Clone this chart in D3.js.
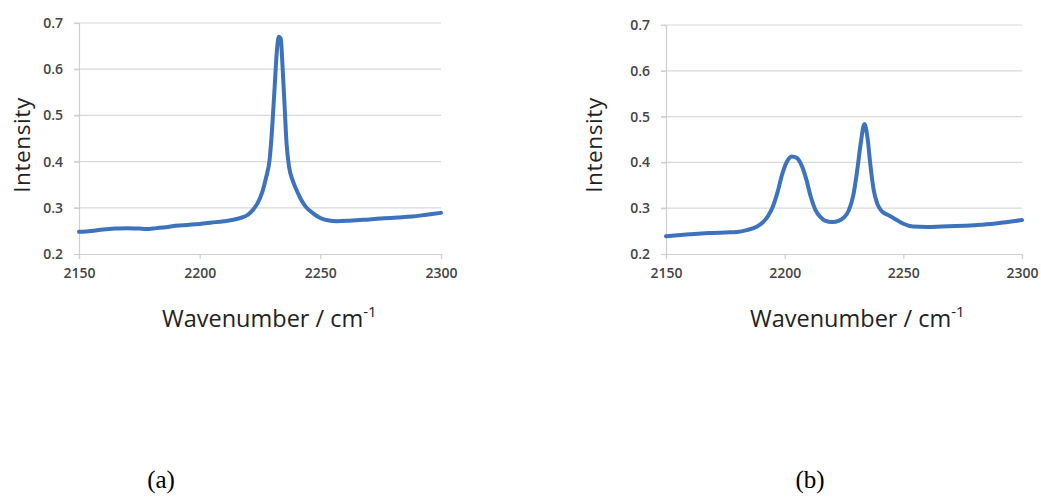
<!DOCTYPE html>
<html>
<head>
<meta charset="utf-8">
<script src="https://cdn.jsdelivr.net/npm/d3@7"></script>
<style>
  html, body { margin: 0; padding: 0; background: #fff; }
  svg { display: block; }
</style>
</head>
<body>
<svg id="chart" width="1041" height="498"></svg>
<script>
// ---------- DATA ----------
const xTicks = [2150, 2200, 2250, 2300];
const yTicks = [0.2, 0.3, 0.4, 0.5, 0.6, 0.7];
const panelLabels = ["(a)", "(b)"];
const xTitle = "Wavenumber / cm";
const yTitle = "Intensity";

// Panel (a)
const waveA = [2150, 2155, 2160, 2165, 2170, 2175, 2178, 2182, 2186, 2190, 2195, 2200, 2205, 2210, 2214, 2217, 2220, 2222, 2224, 2226, 2227.5, 2229, 2230, 2231, 2232, 2232.8, 2233.6, 2234.3, 2235, 2236, 2237, 2238.5, 2240, 2242, 2244, 2247, 2250, 2253, 2257, 2262, 2268, 2275, 2282, 2288, 2294, 2300];
const intA = [0.248, 0.250, 0.253, 0.255, 0.256, 0.255, 0.254, 0.256, 0.258, 0.261, 0.263, 0.265, 0.268, 0.271, 0.274, 0.278, 0.285, 0.295, 0.310, 0.335, 0.365, 0.405, 0.470, 0.555, 0.640, 0.670, 0.666, 0.610, 0.540, 0.440, 0.390, 0.360, 0.340, 0.318, 0.302, 0.288, 0.278, 0.273, 0.271, 0.272, 0.274, 0.277, 0.279, 0.281, 0.285, 0.289];

// Panel (b)
const waveB = [2150, 2155, 2160, 2165, 2170, 2175, 2180, 2184, 2188, 2191, 2193, 2195, 2197, 2199, 2201, 2203, 2205, 2207, 2209, 2211, 2213, 2215, 2217, 2220, 2223, 2225, 2227, 2229, 2230.5, 2232, 2233.6, 2235, 2236, 2237.5, 2239, 2241, 2244, 2247, 2250, 2254, 2260, 2266, 2272, 2280, 2288, 2294, 2300];
const intB = [0.239, 0.241, 0.243, 0.245, 0.246, 0.247, 0.248, 0.252, 0.259, 0.270, 0.283, 0.303, 0.335, 0.375, 0.402, 0.413, 0.410, 0.395, 0.365, 0.325, 0.296, 0.281, 0.273, 0.270, 0.273, 0.280, 0.295, 0.330, 0.380, 0.440, 0.484, 0.450, 0.400, 0.340, 0.310, 0.293, 0.284, 0.275, 0.266, 0.260, 0.259, 0.260, 0.261, 0.263, 0.266, 0.270, 0.274];

// ---------- DRAW ----------
const svg = d3.select("#chart");
const sans = "Open Sans, sans-serif";

function drawPanel(cfg, xs, ys, label) {
  const g = svg.append("g");
  const x = d3.scaleLinear().domain([2150, 2300]).range([cfg.x0, cfg.x1]);
  const y = d3.scaleLinear().domain([0.2, 0.7]).range([cfg.y0, cfg.y1]);

  // gridlines
  g.append("g").selectAll("line").data(yTicks.filter(v => v > 0.2)).join("line")
    .attr("x1", cfg.x0 - 5).attr("x2", cfg.x1)
    .attr("y1", d => y(d)).attr("y2", d => y(d))
    .attr("stroke", "#d9d9d9").attr("stroke-width", 1.2);

  // y axis
  const yAxis = d3.axisLeft(y).tickValues(yTicks).tickFormat(d3.format(".1f")).tickSize(5).tickPadding(11);
  const ya = g.append("g").attr("transform", `translate(${cfg.x0},0)`).call(yAxis);
  ya.select(".domain").attr("stroke", "#cfcfcf").attr("stroke-width", 1.2);
  ya.selectAll(".tick line").attr("stroke", "#cfcfcf").attr("stroke-width", 1.2);
  ya.selectAll(".tick text").attr("fill", "#444").style("font-family", sans)
    .style("font-size", "14px").style("font-weight", "600");

  // x axis
  const xAxis = d3.axisBottom(x).tickValues(xTicks).tickFormat(d3.format("d")).tickSize(5).tickPadding(9);
  const xa = g.append("g").attr("transform", `translate(0,${cfg.y0})`).call(xAxis);
  xa.select(".domain").attr("stroke", "#cfcfcf").attr("stroke-width", 1.2);
  xa.selectAll(".tick line").attr("stroke", "#cfcfcf").attr("stroke-width", 1.2);
  xa.selectAll(".tick text").attr("fill", "#444").style("font-family", sans)
    .style("font-size", "14px").style("font-weight", "600");

  // line
  const pts = xs.map((v, i) => [v, ys[i]]);
  const line = d3.line().x(d => x(d[0])).y(d => y(d[1])).curve(d3.curveMonotoneX);
  g.append("path").datum(pts).attr("d", line)
    .attr("fill", "none").attr("stroke", "#3d73bd").attr("stroke-width", 4)
    .attr("stroke-linejoin", "round").attr("stroke-linecap", "round");

  // y title
  g.append("text")
    .attr("transform", `translate(${cfg.ytx},${cfg.yty}) rotate(-90)`)
    .attr("text-anchor", "middle")
    .style("font-family", sans).style("font-size", "22.5px").style("letter-spacing", "0.6px")
    .attr("fill", "#222")
    .text(yTitle);

  // x title
  const t = g.append("text")
    .attr("x", cfg.xtx).attr("y", cfg.xty)
    .style("font-family", sans).style("font-size", "23.5px").attr("fill", "#222");
  t.append("tspan").text(xTitle);
  t.append("tspan").attr("dy", -10).style("font-size", "15px").text("-1");

  // panel label
  svg.append("text")
    .attr("x", cfg.lx).attr("y", 488).attr("text-anchor", "middle")
    .style("font-family", "Liberation Serif, Times New Roman, serif").style("font-size", "25px").attr("fill", "#000")
    .text(label);
}

drawPanel({x0: 79, x1: 441, y0: 254, y1: 23, ytx: 30, yty: 145, xtx: 162, xty: 327, lx: 161}, waveA, intA, panelLabels[0]);
drawPanel({x0: 666, x1: 1022, y0: 254, y1: 25, ytx: 602, yty: 145, xtx: 750, xty: 327, lx: 810}, waveB, intB, panelLabels[1]);
</script>
</body>
</html>
